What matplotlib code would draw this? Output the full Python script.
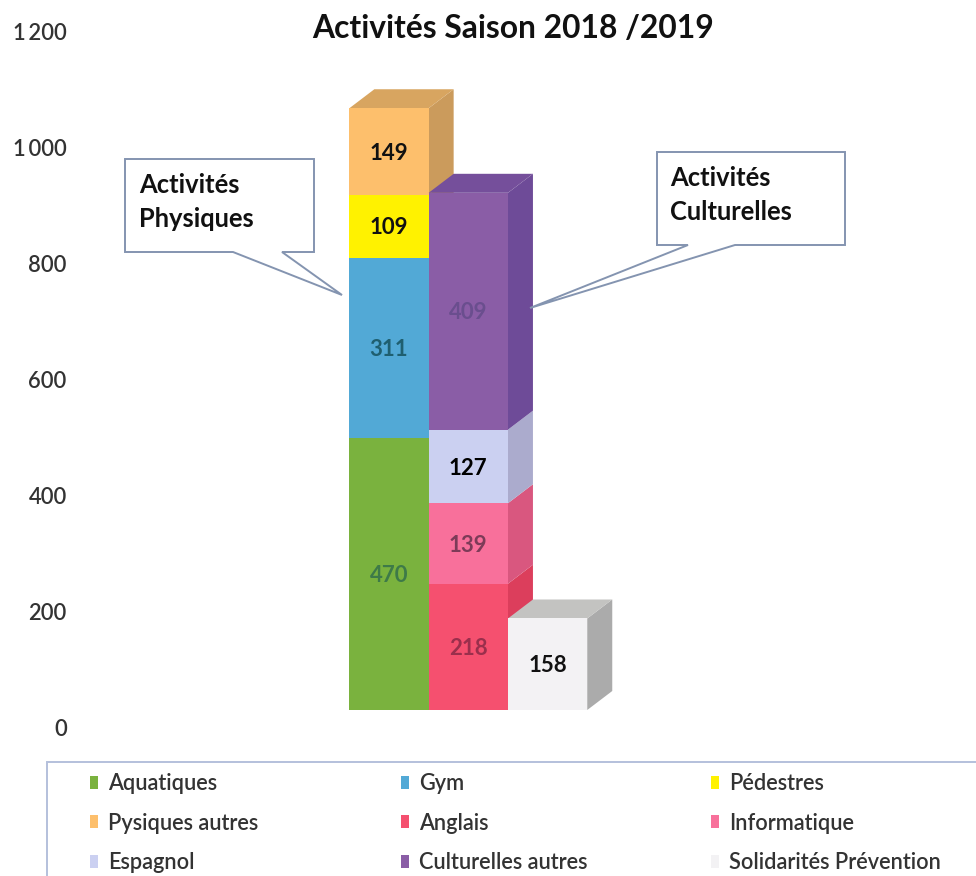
import matplotlib
matplotlib.use("Agg")
import matplotlib.pyplot as plt
from matplotlib.patches import Polygon, Patch, Rectangle

plt.rcParams['font.family'] = ['Lato', 'DejaVu Sans']

# ---- data ----
title = "Activités Saison 2018 /2019"
y_ticks = [0, 200, 400, 600, 800, 1000, 1200]
y_tick_labels = ["0", "200", "400", "600", "800", "1\u2009000", "1\u2009200"]
col_physique = [470, 311, 109, 149]
col_culture = [218, 139, 127, 409]
col_solidarite = [158]
names_physique = ["Aquatiques", "Gym", "Pédestres", "Pysiques autres"]
names_culture = ["Anglais", "Informatique", "Espagnol", "Culturelles autres"]
names_solidarite = ["Solidarités Prévention"]
legend_col1 = ["Aquatiques", "Pysiques autres", "Espagnol"]
legend_col2 = ["Gym", "Anglais", "Culturelles autres"]
legend_col3 = ["Pédestres", "Informatique", "Solidarités Prévention"]

# ---- styles ----
W, H = 976, 876
face = {"Aquatiques": "#7AB23E", "Gym": "#52A9D6", "Pédestres": "#FFF200",
        "Pysiques autres": "#FDBF6C", "Anglais": "#F5506F", "Informatique": "#F8709B",
        "Espagnol": "#CBD0F1", "Culturelles autres": "#8A5DA6",
        "Solidarités Prévention": "#F3F2F4"}
side = {"Pysiques autres": "#CB9B5C", "Pédestres": "#CB9B5C", "Anglais": "#DC3E5C",
        "Informatique": "#D9577F", "Espagnol": "#ABABCD", "Culturelles autres": "#6E4B98",
        "Solidarités Prévention": "#ABABAB", "Aquatiques": "#5F8C30", "Gym": "#3F87AB"}
top = {"Pysiques autres": "#D8A560", "Culturelles autres": "#754F9B",
       "Solidarités Prévention": "#C3C3C1"}
label_col = {"Aquatiques": "#3E7A48", "Gym": "#1F5F70", "Pédestres": "#111111",
             "Pysiques autres": "#111111", "Anglais": "#9A2F4C", "Informatique": "#7D3B58",
             "Espagnol": "#000000", "Culturelles autres": "#6A4E8E",
             "Solidarités Prévention": "#111111"}

def fx(px): return px / W
def fy(py): return 1 - py / H

fig = plt.figure(figsize=(W / 100, H / 100), dpi=100, facecolor="white")
AX_L, AX_R, AX_T, AX_B = 75, 976, 32, 727
ax = fig.add_axes([fx(AX_L), fy(AX_B), (AX_R - AX_L) / W, (AX_B - AX_T) / H])
BAR_PX = 79.3
CENTER_PX = 389
ax.set_xlim((AX_L - CENTER_PX) / BAR_PX, (AX_R - CENTER_PX) / BAR_PX)
ax.set_ylim(0, 1200)
for s in ax.spines.values():
    s.set_visible(False)
ax.set_xticks([])
ax.set_yticks(y_ticks, y_tick_labels, fontsize=15.8, color="#333333", fontweight="semibold")
ax.tick_params(axis="y", length=0, pad=6)
ax.patch.set_alpha(0)

px_per_unit = (AX_B - AX_T) / 1200
BASE = 17 / px_per_unit
DX = 25 / BAR_PX
DY = 19 / px_per_unit

columns = [(col_physique, names_physique), (col_culture, names_culture),
           (col_solidarite, names_solidarite)]
for i, (vals, names) in enumerate(columns):
    b = BASE
    x0, x1 = i - 0.5, i + 0.5
    for v, n in zip(vals, names):
        ax.add_patch(Polygon([(x1, b), (x1 + DX, b + DY), (x1 + DX, b + v + DY), (x1, b + v)],
                             closed=True, fc=side[n], ec="none", zorder=2 + i))
        ax.bar(i, v, width=1.0, bottom=b, color=face[n], zorder=2.2 + i)
        ax.text(i, b + v / 2 - 3, str(v), ha="center", va="center", fontsize=16,
                fontweight="bold", color=label_col[n], zorder=3.5 + i)
        b += v
    ax.add_patch(Polygon([(x0, b), (x0 + DX, b + DY), (x1 + DX, b + DY), (x1, b)],
                         closed=True, fc=top[names[-1]], ec="none", zorder=2.1 + i))

# title
fig.text(fx(513), fy(28), title, ha="center", va="center", fontsize=22.9, fontweight="bold", color="#111111")

# callouts (annotation shapes in pixel positions)
def callout(pts):
    return Polygon([(fx(x), fy(y)) for x, y in pts], closed=True, transform=fig.transFigure,
                   fc="white", ec="#8494B0", lw=1.4, zorder=10)

fig.add_artist(callout([(125, 159), (314, 159), (314, 252), (282, 252), (342, 295), (233, 252), (125, 252)]))
fig.add_artist(callout([(657, 152), (845, 152), (845, 245), (735, 245), (530, 308), (688, 245), (657, 245)]))
for px, py, s in [(139, 185, "Activités"), (139, 219, "Physiques"),
                  (670, 178, "Activités"), (670, 212, "Culturelles")]:
    fig.text(fx(px), fy(py), s, fontsize=18.4, fontweight="bold", color="#111111", va="center", zorder=11)

# legend frame, running off the bottom and right of the picture as in the source
fig.add_artist(Rectangle((fx(47), fy(900)), (990 - 47) / W, (900 - 762) / H, transform=fig.transFigure,
                         fc="white", ec="#B4C0DC", lw=1.4, zorder=1))

# one legend per column, so the columns start where they start in the source
for names, px in [(legend_col1, 90), (legend_col2, 401), (legend_col3, 711)]:
    handles = [Patch(fc=face[n], ec="none", label=n) for n in names]
    leg = fig.legend(handles=handles, ncols=1, loc="upper left",
                     bbox_to_anchor=(fx(px), fy(773)), bbox_transform=fig.transFigure,
                     borderaxespad=0, borderpad=0, fontsize=15.7, frameon=False,
                     handlelength=0.36, handleheight=0.55, handletextpad=0.45,
                     labelspacing=0.85)
    leg.set_zorder(2)
    for t in leg.get_texts():
        t.set_color("#333333")
        t.set_fontweight("semibold")

fig.savefig("out.png", dpi=100)
